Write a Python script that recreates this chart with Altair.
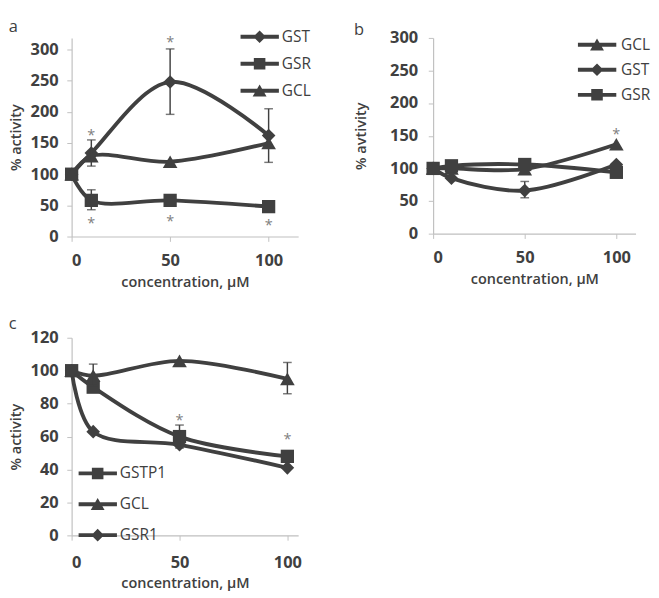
import altair as alt
import pandas as pd

# ---------------- data ----------------
conc = [0, 10, 50, 100]
x_ticks = [0, 50, 100]

# panel a
a_names = ["GST", "GSR", "GCL"]
a_GST = [100, 134, 248, 162]
a_GSR = [100, 58, 58, 48]
a_GCL = [100, 129, 120, 150]
a_err_series = ["GST", "GST", "GST", "GSR"]
a_err_conc = [10, 50, 100, 10]
a_err_low = [113, 196, 119, 43]
a_err_high = [155, 301, 205, 75]
a_star_conc = [10, 10, 50, 50, 100]
a_star_value = [169, 28, 318, 31, 24]
a_y_ticks = [0, 50, 100, 150, 200, 250, 300]

# panel b
b_names = ["GCL", "GST", "GSR"]
b_GCL = [100, 100, 99, 137]
b_GST = [100, 85, 66, 106]
b_GSR = [100, 104, 106, 94]
b_err_series = ["GST"]
b_err_conc = [50]
b_err_low = [55]
b_err_high = [80]
b_star_conc = [100]
b_star_value = [158]
b_y_ticks = [0, 50, 100, 150, 200, 250, 300]

# panel c
c_names = ["GSTP1", "GCL", "GSR1"]
c_GSTP1 = [100, 90, 60, 48]
c_GCL = [100, 97, 106, 95]
c_GSR1 = [100, 63, 55, 41]
c_err_series = ["GCL", "GSTP1", "GCL"]
c_err_conc = [10, 50, 100]
c_err_low = [91, 53, 86]
c_err_high = [104, 67, 105]
c_star_conc = [50, 100]
c_star_value = [72, 61]
c_y_ticks = [0, 20, 40, 60, 80, 100, 120]

# ---------------- style ----------------
DARK = "#404040"
AXIS_GRAY = "#bfbfbf"
FONT = "Open Sans"

SHAPE = {"GST": "diamond", "GSR1": "diamond", "GSR": "square", "GSTP1": "square", "GCL": "triangle-up"}
SIZE = {"diamond": 200, "square": 190, "triangle-up": 230}
LINE_SEG = "M-1,-0.1H1V0.1H-1Z "
LEG_PATH = {
    "diamond": LINE_SEG + "M0,-0.33L0.33,0L0,0.33L-0.33,0Z",
    "square": LINE_SEG + "M-0.3,-0.3H0.3V0.3H-0.3Z",
    "triangle-up": LINE_SEG + "M0,-0.32L0.36,0.3L-0.36,0.3Z",
}


def panel(letter, names, vals, err, stars, y_ticks, y_max, x_max, w, h,
          y_title, legend_x, legend_y, row_h, label_off, title_offset,
          y_title_pad, y_label_pad, x_label_pad, x_title_pad):
    rows = []
    for n, v in zip(names, vals):
        for c, val in zip(conc, v):
            rows.append({"series": n, "conc": c, "value": val})
    df = pd.DataFrame(rows)
    e_series, e_conc, e_low, e_high = err
    df_err = pd.DataFrame({"series": e_series, "conc": e_conc, "low": e_low, "high": e_high})
    s_conc, s_val = stars
    df_star = pd.DataFrame({"conc": s_conc, "value": s_val})

    x_axis = alt.Axis(values=x_ticks, title="concentration, µM",
                      labelPadding=x_label_pad, titlePadding=x_title_pad)
    y_axis = alt.Axis(values=y_ticks, title=y_title, titlePadding=y_title_pad, labelPadding=y_label_pad)
    x_scale = alt.Scale(domain=[0, x_max], nice=False)
    y_scale = alt.Scale(domain=[0, y_max], nice=False)

    def X(f):
        return alt.X(f"{f}:Q", scale=x_scale, axis=x_axis)

    def Y(f):
        return alt.Y(f"{f}:Q", scale=y_scale, axis=y_axis)

    base = alt.Chart(df)
    lines = base.mark_line(interpolate="catmull-rom", strokeWidth=4, color=DARK).encode(
        x=X("conc"), y=Y("value"), detail="series:N")
    pts = []
    for n in names:
        shp = SHAPE[n]
        pts.append(
            base.transform_filter(alt.datum.series == n)
            .mark_point(shape=shp, filled=True, size=SIZE[shp], color=DARK, opacity=1)
            .encode(x=X("conc"), y=Y("value"))
        )
    eb = alt.Chart(df_err)
    rules = eb.mark_rule(strokeWidth=1.5, color=DARK).encode(x=X("conc"), y=Y("low"), y2="high:Q")
    cap_lo = eb.mark_tick(orient="horizontal", size=9, thickness=1.5, color=DARK).encode(x=X("conc"), y=Y("low"))
    cap_hi = eb.mark_tick(orient="horizontal", size=9, thickness=1.5, color=DARK).encode(x=X("conc"), y=Y("high"))
    star = alt.Chart(df_star).mark_text(text="*", fontSize=15, color="#808080", dy=4, font=FONT).encode(
        x=X("conc"), y=Y("value"))
    leg = base.transform_filter("false").mark_point(filled=True, color=DARK, opacity=1).encode(
        shape=alt.Shape(
            "series:N",
            scale=alt.Scale(domain=names, range=[LEG_PATH[SHAPE[n]] for n in names]),
            legend=alt.Legend(
                title=None, orient="none", legendX=legend_x, legendY=legend_y,
                symbolSize=1600, symbolStrokeWidth=0, symbolFillColor=DARK,
                labelFont=FONT, labelFontSize=16, labelColor=DARK, labelOffset=label_off,
                rowPadding=0, clipHeight=row_h, padding=0,
            ),
        )
    )
    return alt.layer(lines, *pts, rules, cap_lo, cap_hi, star, leg).properties(
        width=w, height=h,
        title=alt.TitleParams(letter, anchor="start", frame="bounds", fontSize=17,
                              fontWeight="normal", font=FONT, color=DARK, offset=title_offset),
    )


pa = panel("a", a_names, [a_GST, a_GSR, a_GCL],
           (a_err_series, a_err_conc, a_err_low, a_err_high), (a_star_conc, a_star_value),
           a_y_ticks, 318.6, 115, 235, 206, "% activity", 175, -15, 27.5, 3, -13, 7, 9, 12, 7)
pb = panel("b", b_names, [b_GCL, b_GST, b_GSR],
           (b_err_series, b_err_conc, b_err_low, b_err_high), (b_star_conc, b_star_value),
           b_y_ticks, 300, 110.5, 210, 203, "% avtivity", 150, -6, 26, 5, -10, 22, 11, 12, 7)
pc = panel("c", c_names, [c_GSTP1, c_GCL, c_GSR1],
           (c_err_series, c_err_conc, c_err_low, c_err_high), (c_star_conc, c_star_value),
           c_y_ticks, 120, 105, 235, 205, "% activity", 7, 125, 31.5, 3, -4, 7, 9, 15, 6)

top = alt.hconcat(pa, pb, spacing=43).resolve_scale(shape="independent").resolve_legend(shape="independent")
chart = (
    alt.vconcat(top, pc, spacing=27)
    .resolve_scale(shape="independent")
    .resolve_legend(shape="independent")
    .properties(padding=0)
    .configure_view(stroke=None)
    .configure_axis(
        grid=False, domainColor=AXIS_GRAY, tickColor=AXIS_GRAY, tickSize=5, domainWidth=1.2,
        labelFont=FONT, labelFontSize=17, labelFontWeight="bold", labelColor=DARK,
        titleFont=FONT, titleFontSize=15, titleFontWeight=600, titleColor=DARK,
    )
)

chart.save("out.html", embed_options={"renderer": "svg", "actions": False})
